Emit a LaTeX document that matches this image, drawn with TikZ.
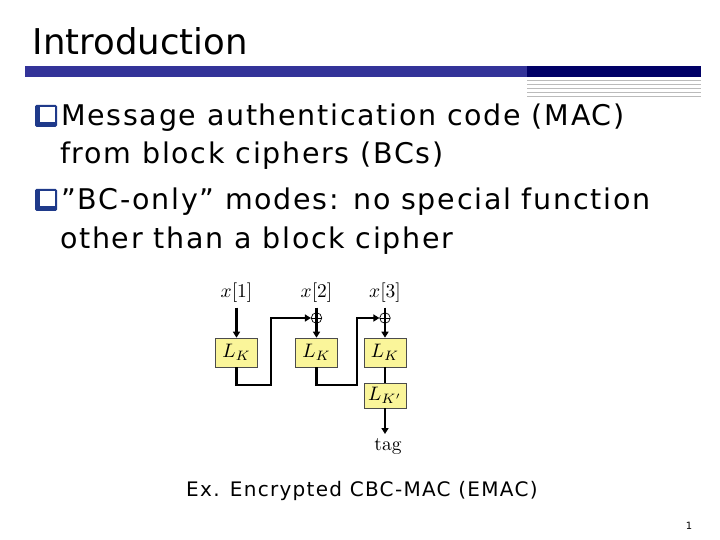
\documentclass[tikz,border=0pt]{standalone}
\usepackage[no-math]{fontspec}
\usetikzlibrary{arrows.meta}
\newfontfamily\djv[LetterSpace=6]{DejaVu Sans}
\newfontfamily\djvcap[LetterSpace=6.5]{DejaVu Sans}
\newfontfamily\djvplain{DejaVu Sans}
\definecolor{barblue}{HTML}{333399}
\definecolor{barnavy}{HTML}{000066}
\definecolor{bulletc}{HTML}{1F3A8A}
\definecolor{boxy}{HTML}{FAF59A}
\definecolor{rulegray}{HTML}{BBBBBB}
\newcommand{\dgtxt}[1]{\scalebox{1.95}{#1}}
\tikzset{
  blockbox/.style={draw=black!70, fill=boxy, line width=0.6pt, minimum width=42pt, minimum height=29pt, inner sep=0pt},
  wire/.style={line width=2.4pt},
  arr/.style={wire, -{Triangle[length=6pt,width=7pt]}},
  xorc/.style={circle, draw=black, line width=0.7pt, minimum size=10.5pt, inner sep=0pt,
    path picture={\draw[line width=0.7pt] (path picture bounding box.west) -- (path picture bounding box.east);}},
  lbl/.style={inner sep=0pt, anchor=base},
  bodytext/.style={anchor=base west, inner sep=0pt, font=\djv\fontsize{28.5}{28.5}\selectfont},
}
\newcommand{\qbullet}[2]{%
  \fill[bulletc, rounded corners=1.5pt] (#1,#2) rectangle ++(22,22);
  \fill[white] (#1+5,#2+2) rectangle ++(15,15.5);
}
\begin{document}
\begin{tikzpicture}[x=1pt,y=-1pt]
\useasboundingbox (0,0) rectangle (720,540);
\fill[white] (0,0) rectangle (720,540);
% title
\node[anchor=base west, inner sep=0pt, font=\djvplain\fontsize{35.5}{35.5}\selectfont] (title) at (32.5,55) {Introduction};
\fill[barblue] (25,66) rectangle (527,77.5);
\fill[barnavy] (527,66) rectangle (701,77.5);
\foreach \yy in {80,84,88,92,96} \draw[rulegray, line width=0.8pt] (527,\yy) -- (701,\yy);
% bullets
\qbullet{35}{105}
\node[bodytext] (l1) at (61,126) {Message authentication code (MAC)};
\node[bodytext] (l2) at (60,164) {from block ciphers (BCs)};
\qbullet{35}{189}
\node[bodytext] (l3) at (61,210) {”BC-only” modes: no special function};
\node[bodytext] (l4) at (60,248) {other than a block cipher};
% diagram
\node[lbl] (x1) at (236.5,297.5) {\dgtxt{$x[1]$}};
\node[lbl] (x2) at (316.5,297.5) {\dgtxt{$x[2]$}};
\node[lbl] (x3) at (385,297.5) {\dgtxt{$x[3]$}};
\node[blockbox] (e1) at (236.5,352.5) {\dgtxt{$L_K$}};
\node[blockbox] (e2) at (316.5,352.5) {\dgtxt{$L_K$}};
\node[blockbox] (e3) at (385,352.5) {\dgtxt{$L_K$}};
\node[blockbox, minimum height=25pt] (e4) at (385,395.5) {\dgtxt{$L_{K'}$}};
\node[xorc] (p2) at (316.5,318) {};
\node[xorc] (p3) at (385,318) {};
\node[inner sep=0pt, anchor=north] (tag) at (388,438) {\dgtxt{tag}};
\coordinate (c1) at (271,385);
\coordinate (c2) at (357,385);
\draw[arr, shorten <=5pt] (x1.south) -- (e1.north);
\draw[arr, shorten <=5pt] (x2.south) -- (e2.north);
\draw[arr, shorten <=5pt] (x3.south) -- (e3.north);
\draw[arr] (e1.south) |- (c1) |- (p2.west);
\draw[arr] (e2.south) |- (c2) |- (p3.west);
\draw[wire] (e3.south) -- (e4.north);
\draw[arr, shorten >=4pt] (e4.south) -- (e4.south |- tag.north);
% caption
\node[anchor=base west, inner sep=0pt, font=\djvcap\fontsize{20}{20}\selectfont] (cap) at (186,496) {Ex. Encrypted CBC-MAC (EMAC)};
\node[anchor=base, inner sep=0pt, font=\djvplain\fontsize{10}{10}\selectfont] (pg) at (689,529) {1};
\end{tikzpicture}
\end{document}
